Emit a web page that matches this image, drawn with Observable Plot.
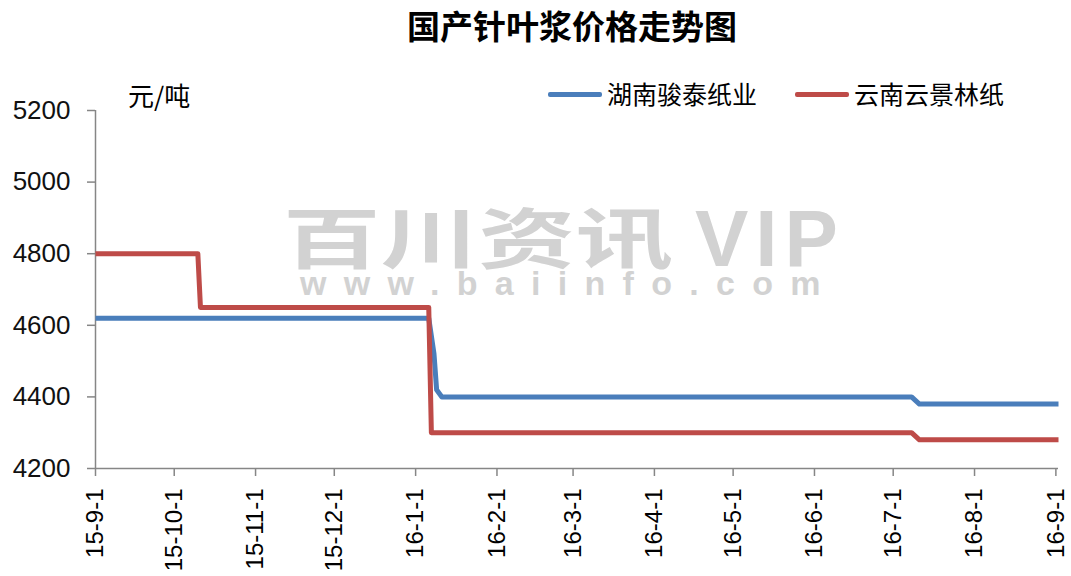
<!DOCTYPE html>
<html>
<head>
<meta charset="utf-8">
<script src="https://cdn.jsdelivr.net/npm/d3@7"></script>
<script src="https://cdn.jsdelivr.net/npm/@observablehq/plot@0.6"></script>
<style>
  html, body { margin: 0; padding: 0; background: #fff; }
  #wrap { position: relative; width: 1071px; height: 576px; overflow: hidden; }
  .abs { position: absolute; white-space: nowrap; }
  .cjk { font-family: "Noto Sans CJK SC", sans-serif; }
  #chart { position: absolute; left: 0; top: 0; z-index: 1; }
  #wm { position: absolute; left: 0; top: 0; z-index: 0; }
  .sw { position: absolute; height: 5px; border-radius: 2px; }
</style>
</head>
<body>
<div id="wrap">
  <div class="abs cjk" id="title" style="left:407px; top:9px; font-size:33px; line-height:33px; font-weight:700; color:#000;"></div>
  <div class="abs cjk" id="unit" style="left:128px; top:82px; font-size:26px; line-height:26px; color:#000;"></div>
  <div id="wm"></div>
  <div id="legend"></div>
  <div id="chart"></div>
</div>
<script>
// ---- data ----
const titleText = "国产针叶浆价格走势图";
const unitText = "元/吨";
const seriesNames = ["湖南骏泰纸业", "云南云景林纸"];
const seriesColors = ["#4a7ebb", "#be4b48"];

const blueDates  = ["2015-09-01", "2016-01-06", "2016-01-08", "2016-01-09", "2016-01-11", "2016-07-08", "2016-07-11", "2016-09-02"];
const blueValues = [4620, 4620, 4520, 4420, 4400, 4400, 4380, 4380];

const redDates  = ["2015-09-01", "2015-10-10", "2015-10-11", "2016-01-06", "2016-01-07", "2016-07-08", "2016-07-11", "2016-09-02"];
const redValues = [4800, 4800, 4650, 4650, 4300, 4300, 4280, 4280];

const yTicks = [4200, 4400, 4600, 4800, 5000, 5200];
const xTickDates = ["2015-09-01", "2015-10-01", "2015-11-01", "2015-12-01", "2016-01-01", "2016-02-01",
                    "2016-03-01", "2016-04-01", "2016-05-01", "2016-06-01", "2016-07-01", "2016-08-01", "2016-09-01"];
const xTickLabels = ["15-9-1", "15-10-1", "15-11-1", "15-12-1", "16-1-1", "16-2-1",
                     "16-3-1", "16-4-1", "16-5-1", "16-6-1", "16-7-1", "16-8-1", "16-9-1"];
const xDomain = ["2015-09-01", "2016-09-02"];
const watermark1 = "百川资讯";
const watermark2 = "VIP";
const watermark3 = "www.baiinfo.com";

// ---- build ----
const rows = [];
blueDates.forEach((d, i) => rows.push({series: seriesNames[0], date: new Date(d), value: blueValues[i]}));
redDates.forEach((d, i) => rows.push({series: seriesNames[1], date: new Date(d), value: redValues[i]}));

const tickDates = xTickDates.map(d => new Date(d));
const labelOf = new Map(tickDates.map((d, i) => [+d, xTickLabels[i]]));

document.getElementById("title").textContent = titleText;
document.getElementById("unit").textContent = unitText;

// watermark: one text element with three pieces
const wsvg = d3.select("#wm").append("svg").attr("width", 1071).attr("height", 576);
const wtext = wsvg.append("text").attr("fill", "#d2d2d2").attr("font-weight", 700);
wtext.append("tspan").attr("x", 283).attr("y", 263)
  .attr("font-family", "'Noto Sans CJK SC', sans-serif").attr("font-size", 66)
  .attr("textLength", 390).attr("lengthAdjust", "spacingAndGlyphs").text(watermark1);
wtext.append("tspan").attr("x", 695).attr("y", 266)
  .attr("font-family", "'Liberation Sans', sans-serif").attr("font-size", 80)
  .attr("letter-spacing", 7).text(watermark2);
wtext.append("tspan").attr("x", 300).attr("y", 295)
  .attr("font-family", "'Liberation Sans', sans-serif").attr("font-size", 34)
  .attr("letter-spacing", 17.3).text(watermark3);

// legend
const legend = document.getElementById("legend");
const legendPos = [{sx: 548, tx: 607}, {sx: 795, tx: 854}];
seriesNames.forEach((name, i) => {
  const sw = document.createElement("div");
  sw.className = "sw";
  sw.style.left = legendPos[i].sx + "px";
  sw.style.top = "92px";
  sw.style.width = "54px";
  sw.style.background = seriesColors[i];
  sw.style.zIndex = 2;
  legend.appendChild(sw);
  const t = document.createElement("div");
  t.className = "abs cjk";
  t.style.left = legendPos[i].tx + "px";
  t.style.top = "81px";
  t.style.fontSize = "25px";
  t.style.lineHeight = "25px";
  t.style.color = "#000";
  t.style.zIndex = 2;
  t.textContent = name;
  legend.appendChild(t);
});

const axisGray = "#868686";
const chart = Plot.plot({
  width: 1071,
  height: 576,
  marginTop: 110,
  marginBottom: 108,
  marginLeft: 95,
  marginRight: 13,
  style: {fontFamily: "'Liberation Sans', Arial, sans-serif", fontSize: "24px", background: "transparent", color: "#000"},
  x: {type: "utc", domain: xDomain.map(d => new Date(d)), label: null},
  y: {domain: [yTicks[0], yTicks[yTicks.length - 1]], label: null},
  color: {domain: seriesNames, range: seriesColors},
  marks: [
    Plot.ruleX([new Date(xDomain[0])], {stroke: axisGray, strokeWidth: 1.5}),
    Plot.ruleY([yTicks[0]], {stroke: axisGray, strokeWidth: 1.5}),
    Plot.axisY({ticks: yTicks, label: null, tickSize: 8, tickPadding: 17, stroke: axisGray, strokeWidth: 1.5, fill: "#111", fontSize: 26, tickFormat: d => String(d)}),
    Plot.axisX({ticks: tickDates, label: null, tickSize: 8, tickPadding: 12, tickRotate: -90, stroke: axisGray, strokeWidth: 1.5, fill: "#000", fontSize: 24, tickFormat: d => labelOf.get(+d)}),
    Plot.line(rows, {x: "date", y: "value", z: "series", stroke: "series", strokeWidth: 5, strokeLinejoin: "round", strokeLinecap: "butt"})
  ]
});
document.getElementById("chart").appendChild(chart);
</script>
</body>
</html>
